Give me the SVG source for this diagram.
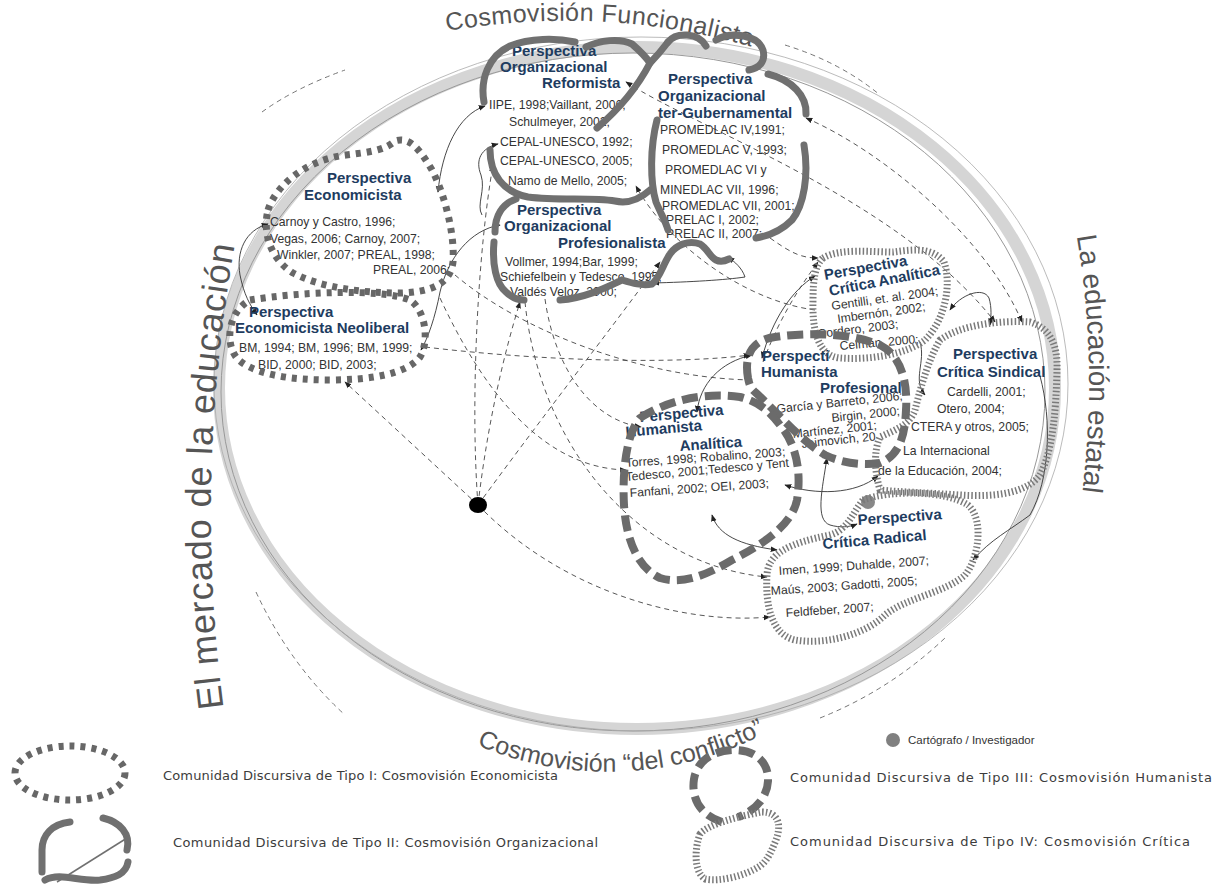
<svg xmlns="http://www.w3.org/2000/svg" width="1216" height="886" viewBox="0 0 1216 886">
<defs>
<style>
.t1{fill:none;stroke:#676767;stroke-width:7;stroke-dasharray:5 6}
.t2{fill:none;stroke:#707070;stroke-width:7;stroke-linecap:round}
.t3{fill:none;stroke:#6b6b6b;stroke-width:8;stroke-dasharray:16 7}
.t4{fill:none;stroke:#7a7a7a;stroke-width:7;stroke-dasharray:1.5 2.2}
.ttl{font-family:"Liberation Sans",Arial,sans-serif;font-weight:bold;font-size:15px;fill:#1e3c5f}
.itm{font-family:"Liberation Sans",Arial,sans-serif;font-size:12.2px;fill:#333}
.cs{fill:none;stroke:#333;stroke-width:0.9;marker-end:url(#ah)}
.cd{fill:none;stroke:#444;stroke-width:0.9;stroke-dasharray:5 4;marker-end:url(#ah)}
.both{marker-start:url(#ah)}
.big{font-family:"Liberation Sans",Arial,sans-serif;fill:#555}
.leg{font-family:"DejaVu Sans","Liberation Sans",sans-serif;font-size:13px;fill:#3c3c3c}
.od{fill:none;stroke:#666;stroke-width:0.9;stroke-dasharray:5 4}
</style>
<marker id="ah" viewBox="0 0 10 10" refX="9" refY="5" markerWidth="7" markerHeight="7" markerUnits="userSpaceOnUse" orient="auto-start-reverse"><path d="M0,1 L10,5 L0,9 z" fill="#222"/></marker>
<path id="pTop" d="M 442,32 C 530,16 640,13 762,50"/>
<path id="pBot" d="M 455,735 A 338,338 0 0 0 810,705"/>
<path id="pLeft" d="M 224,712 Q 192,470 238,228"/>
<path id="pRight" d="M 1076,232 Q 1100,370 1080,510"/>
</defs>
<rect width="1216" height="886" fill="#fff"/>

<g id="frame">
<ellipse cx="637" cy="388" rx="418" ry="341" fill="none" stroke="#d5d5d5" stroke-width="12"/>
<ellipse cx="633" cy="392" rx="412" ry="339" fill="none" stroke="#999" stroke-width="1"/>
<ellipse cx="641" cy="384" rx="427" ry="347" fill="none" stroke="#aaa" stroke-width="0.8"/>
<path class="od" d="M 262,112 Q 295,88 345,70"/>
<path class="od" d="M 785,45 Q 840,62 880,95"/>
<path class="od" d="M 256,592 Q 290,665 345,715"/>
<path class="od" d="M 820,718 Q 890,690 945,638"/>
<text class="big" font-size="25" letter-spacing="0.4"><textPath href="#pTop" startOffset="5">Cosmovisión Funcionalista</textPath></text>
<text class="big" font-size="25"><textPath href="#pBot" startOffset="24">Cosmovisión “del conflicto”</textPath></text>
<text class="big" font-size="36" letter-spacing="0.8"><textPath href="#pLeft" startOffset="4">El mercado de la educación</textPath></text>
<text class="big" font-size="28"><textPath href="#pRight" startOffset="4">La educación estatal</textPath></text>
</g>

<g id="connectors">
<path class="cs both" d="M 268,224 C 245,230 236,252 240,275 C 244,295 250,305 257,315"/>
<path class="cs both" d="M 485,106 C 458,115 442,150 438,192"/>
<path class="cs both" d="M 500,225 C 470,230 448,258 440,292 C 435,318 428,338 421,350"/>
<path class="cs" d="M 482,215 C 476,205 486,190 481,175 C 475,160 481,148 498,144"/>
<path class="cs both" d="M 653,283 C 690,282 725,280 745,277 C 742,268 735,262 728,257"/>
<path class="cs both" d="M 950,310 C 960,295 983,286 989,298 C 992,308 991,318 990,325"/>
<path class="cs" d="M 920,342 C 926,362 912,380 925,395"/>
<path class="cs both" d="M 785,485 C 815,495 855,495 878,476"/>
<path class="cs both" d="M 697,412 C 700,384 720,362 752,355"/>
<path class="cs both" d="M 762,358 C 772,320 792,290 815,276"/>
<path class="cs both" d="M 827,458 C 822,490 815,520 830,525 C 840,528 850,527 857,524"/>
<path class="cs both" d="M 712,515 C 718,535 740,545 777,550"/>
<path class="cs" d="M 1040,376 C 1052,420 1050,480 1030,515 C 1010,530 990,540 973,560"/>
<path class="cd" d="M 478,505 L 345,382"/>
<path class="cd" d="M 478,505 C 470,400 478,250 493,165"/>
<path class="cd" d="M 478,505 C 488,420 505,350 520,302"/>
<path class="cd" d="M 478,505 C 540,420 610,330 660,262"/>
<path class="cd" d="M 478,505 C 560,590 680,625 770,617"/>
<path class="cd" d="M 425,347 C 550,362 680,364 750,355"/>
<path class="cd" d="M 763,362 C 778,322 796,292 818,262"/>
<path class="cd" d="M 545,299 C 555,370 592,420 641,427"/>
<path class="cd" d="M 455,275 C 520,330 640,378 752,380"/>
<path class="cd" d="M 440,298 C 485,395 545,468 626,470"/>
<path class="cd both" d="M 626,82 C 700,130 900,200 995,322"/>
<path class="cd both" d="M 806,118 C 880,150 985,235 1022,322"/>
<path class="cd" d="M 770,238 C 790,252 800,258 818,258"/>
<path class="cd" d="M 815,310 C 740,300 665,240 636,186"/>
<path class="cd" d="M 525,302 C 540,450 640,565 767,577"/>
</g>

<g id="node-reformista">
<text class="ttl" x="512" y="56">Perspectiva</text>
<text class="ttl" x="500" y="72">Organizacional</text>
<text class="ttl" x="542" y="88">Reformista</text>
<text class="itm" x="489" y="109">IIPE, 1998;Vaillant, 2006;</text>
<text class="itm" x="509" y="126">Schulmeyer, 2002;</text>
<text class="itm" x="500" y="146">CEPAL-UNESCO, 1992;</text>
<text class="itm" x="500" y="165">CEPAL-UNESCO, 2005;</text>
<text class="itm" x="508" y="185">Namo de Mello, 2005;</text>
<path class="t2" d="M 484,102 C 480,80 488,56 510,46 C 530,38 556,38 575,42"/>
<path class="t2" d="M 586,47 C 600,40 620,38 632,44 C 640,51 646,57 650,63 M 668,42 C 662,50 656,57 650,63"/>
<path class="t2" d="M 650,63 C 638,86 618,110 597,128"/>
<path class="t2" d="M 490,150 C 490,174 503,192 528,197 C 558,201 592,197 615,201 C 628,204 640,199 650,190"/>
</g>

<g id="node-intergubernamental">
<text class="ttl" x="668" y="84">Perspectiva</text>
<text class="ttl" x="658" y="101">Organizacional</text>
<text class="ttl" x="658" y="118">ter-Gubernamental</text>
<text class="itm" x="660" y="134">PROMEDLAC IV,1991;</text>
<text class="itm" x="662" y="154">PROMEDLAC V, 1993;</text>
<text class="itm" x="665" y="174">PROMEDLAC VI y</text>
<text class="itm" x="660" y="194">MINEDLAC VII, 1996;</text>
<text class="itm" x="662" y="210">PROMEDLAC VII, 2001;</text>
<text class="itm" x="666" y="224">PRELAC I, 2002;</text>
<text class="itm" x="666" y="238">PRELAC II, 2007;</text>
<path class="t2" d="M 668,42 C 676,32 698,32 706,46"/>
<path class="t2" d="M 716,40 C 732,31 758,35 763,50 C 766,62 759,68 749,70"/>
<path class="t2" d="M 768,74 C 792,80 807,96 806,114"/>
<path class="t2" d="M 804,145 C 809,175 804,205 792,220 C 782,230 768,236 756,238"/>
<path class="t2" d="M 657,120 C 650,147 650,182 656,202 C 661,214 666,222 668,230"/>
</g>

<g id="node-profesionalista">
<text class="ttl" x="517" y="215">Perspectiva</text>
<text class="ttl" x="504" y="231">Organizacional</text>
<text class="ttl" x="558" y="248">Profesionalista</text>
<text class="itm" x="505" y="266">Vollmer, 1994;Bar, 1999;</text>
<text class="itm" x="500" y="281">Schiefelbein y Tedesco, 1995;</text>
<text class="itm" x="510" y="296">Valdés Veloz, 2000;</text>
<path class="t2" d="M 516,199 C 502,204 495,216 495,232"/>
<path class="t2" d="M 494,242 C 492,264 496,284 506,292 C 512,298 518,300 524,300"/>
<path class="t2" d="M 560,300 C 585,298 605,288 622,280 C 632,283 642,286 652,284 C 660,278 663,264 670,254 C 676,245 688,240 700,244 C 708,249 710,257 716,260 C 720,262 725,261 729,259"/>
</g>

<g id="node-economicista">
<text class="ttl" x="327" y="183">Perspectiva</text>
<text class="ttl" x="304" y="200">Economicista</text>
<text class="itm" x="270" y="226">Carnoy y Castro, 1996;</text>
<text class="itm" x="270" y="243">Vegas, 2006;  Carnoy, 2007;</text>
<text class="itm" x="277" y="259">Winkler, 2007; PREAL, 1998;</text>
<text class="itm" x="373" y="274">PREAL, 2006;</text>
<path class="t1" d="M 268,210 C 276,185 306,160 346,155 C 371,152 385,150 395,141 C 410,136 420,150 432,170 C 445,195 455,235 453,262 C 450,285 430,292 400,293 C 360,293 320,287 293,273 C 272,260 262,235 268,210 Z"/>
</g>

<g id="node-neoliberal">
<text class="ttl" x="249" y="317">Perspectiva</text>
<text class="ttl" x="235" y="333">Economicista  Neoliberal</text>
<text class="itm" x="239" y="352">BM, 1994; BM, 1996; BM, 1999;</text>
<text class="itm" x="258" y="369">BID, 2000; BID, 2003;</text>
<path class="t1" d="M 250,300 C 300,292 380,288 410,300 C 425,310 430,340 420,357 C 407,374 370,380 330,380 C 290,380 250,374 236,357 C 225,342 228,312 250,300 Z"/>
</g>

<g id="node-critica-analitica">
<text class="ttl" x="825" y="280" transform="rotate(-10 825 280)">Perspectiva</text>
<text class="ttl" x="830" y="296" transform="rotate(-11 830 296)">Crítica Analítica</text>
<text class="itm" x="832" y="310" transform="rotate(-8 832 310)">Gentilli, et. al. 2004;</text>
<text class="itm" x="838" y="323" transform="rotate(-8 838 323)">Imbernón, 2002;</text>
<text class="itm" x="818" y="338" transform="rotate(-7 818 338)">Cordero, 2003;</text>
<text class="itm" x="840" y="350" transform="rotate(-5 840 350)">Celman, 2000;</text>
<path class="t4" d="M 823,258 C 840,248 870,252 893,252 C 910,250 932,246 944,262 C 952,285 945,320 925,340 C 905,355 870,360 840,358 C 818,356 812,330 813,300 C 813,280 815,265 823,258 Z"/>
</g>

<g id="node-critica-sindical">
<text class="ttl" x="953" y="359">Perspectiva</text>
<text class="ttl" x="937" y="377">Crítica Sindical</text>
<text class="itm" x="947" y="396">Cardelli, 2001;</text>
<text class="itm" x="937" y="413">Otero, 2004;</text>
<text class="itm" x="911" y="431">CTERA y otros, 2005;</text>
<text class="itm" x="903" y="455">La Internacional</text>
<text class="itm" x="878" y="475">de la Educación, 2004;</text>
<path class="t4" d="M 940,340 C 960,325 1000,320 1030,322 C 1050,328 1058,345 1057,370 C 1056,410 1053,450 1040,475 C 1025,495 990,497 960,495 C 930,493 900,492 880,490 C 874,470 874,450 880,437 C 895,430 910,425 915,410 C 920,390 928,360 940,340 Z"/>
</g>

<g id="node-humanista-profesional">
<text class="ttl" x="762" y="361">Perspecti</text>
<text class="ttl" x="761" y="377">Humanista</text>
<text class="ttl" x="820" y="393">Profesional</text>
<text class="itm" x="777" y="413" transform="rotate(-6 777 413)">García y Barreto, 2006;</text>
<text class="itm" x="832" y="422" transform="rotate(-6 832 422)">Birgin, 2000;</text>
<text class="itm" x="793" y="438" transform="rotate(-6 793 438)">Martínez, 2001;</text>
<text class="itm" x="802" y="448" transform="rotate(-6 802 448)">Jaimovich, 20</text>
<path class="t3" d="M 748,378 C 744,355 752,340 775,337 C 810,332 850,333 880,345 C 900,355 908,380 906,410 C 905,435 900,455 880,463 C 860,466 840,462 825,455 C 800,440 775,410 755,392 C 750,388 749,383 748,378 Z"/>
</g>

<g id="node-humanista-analitica">
<text class="ttl" x="640" y="422" transform="rotate(-5 640 422)">Perspectiva</text>
<text class="ttl" x="626" y="437" transform="rotate(-5 626 437)">Humanista</text>
<text class="ttl" x="680" y="451" transform="rotate(-4 680 451)">Analítica</text>
<text class="itm" x="626" y="467" transform="rotate(-4 626 467)">Torres, 1998; Robalino, 2003;</text>
<text class="itm" x="626" y="481" transform="rotate(-5 626 481)">Tedesco, 2001;Tedesco y Tent</text>
<text class="itm" x="630" y="497" transform="rotate(-4 630 497)">Fanfani,  2002; OEI, 2003;</text>
<path class="t3" d="M 640,418 C 668,400 705,392 740,397 C 760,402 770,412 780,425 C 795,442 802,470 797,500 C 792,525 762,545 732,560 C 707,575 682,585 660,578 C 638,568 626,540 624,505 C 622,470 627,432 640,418 Z"/>
</g>

<g id="node-critica-radical">
<text class="ttl" x="858" y="525" transform="rotate(-4 858 525)">Perspectiva</text>
<text class="ttl" x="823" y="549" transform="rotate(-5 823 549)">Crítica Radical</text>
<text class="itm" x="779" y="575" font-size="12.8" transform="rotate(-4 779 575)">Imen, 1999; Duhalde, 2007;</text>
<text class="itm" x="771" y="595" font-size="12.8" transform="rotate(-4 771 595)">Maús, 2003;  Gadotti, 2005;</text>
<text class="itm" x="786" y="617" font-size="12.8" transform="rotate(-4 786 617)">Feldfeber, 2007;</text>
<circle cx="868" cy="502" r="7" fill="#888"/>
<path class="t4" d="M 863,500 C 890,490 945,490 968,505 C 985,520 978,560 965,575 C 945,593 905,598 885,615 C 865,635 825,645 795,640 C 772,635 765,605 767,575 C 768,553 790,543 830,535 C 848,530 853,512 863,500 Z"/>
</g>

<g id="cartografo">
<ellipse cx="478" cy="505" rx="9" ry="8" fill="#000"/>
</g>

<g id="legend">
<ellipse class="t1" cx="70" cy="773" rx="55" ry="27"/>
<text class="leg" x="163" y="780" textLength="395">Comunidad Discursiva de Tipo I: Cosmovisión Economicista</text>
<path class="t2" d="M 70,822 C 52,824 42,835 42,850 L 42,872"/>
<path class="t2" d="M 103,818 C 120,822 131,834 127,850"/>
<path fill="none" stroke="#707070" stroke-width="1.5" d="M 127,838 L 57,882"/>
<path class="t2" d="M 45,880 C 60,872 80,882 100,880 C 115,878 126,874 128,862"/>
<text class="leg" x="173" y="847" textLength="425">Comunidad Discursiva de Tipo II: Cosmovisión Organizacional</text>
<path class="t3" d="M 722,822 C 700,815 691,798 694,779 C 697,761 713,750 735,750 C 755,750 769,762 768,781 C 767,800 752,812 738,817"/>
<text class="leg" x="790" y="782" textLength="422">Comunidad Discursiva de Tipo III: Cosmovisión Humanista</text>
<path class="t4" d="M 700,834 C 708,824 740,816 762,812 C 778,812 782,824 776,840 C 772,850 768,860 760,866 C 745,876 720,882 705,879 C 693,871 695,847 700,834 Z"/>
<text class="leg" x="790" y="846" textLength="400">Comunidad Discursiva de Tipo IV: Cosmovisión Crítica</text>
<circle cx="893" cy="740" r="7" fill="#808080"/>
<text x="908" y="744" font-family="Liberation Sans, Arial, sans-serif" font-size="11.5" fill="#333">Cartógrafo / Investigador</text>
</g>
</svg>
